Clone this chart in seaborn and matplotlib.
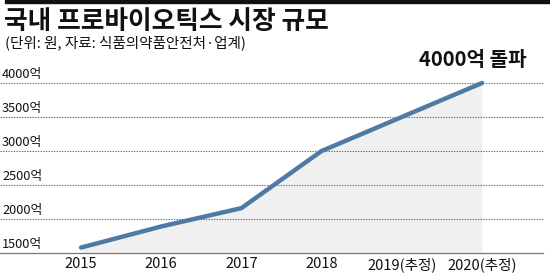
import matplotlib
matplotlib.use("Agg")
import matplotlib.pyplot as plt
import seaborn as sns
import pandas as pd
from matplotlib.patches import Rectangle

years = ["2015", "2016", "2017", "2018", "2019(추정)", "2020(추정)"]
values = [1580, 1890, 2160, 3000, 3500, 4000]
y_ticks = [1500, 2000, 2500, 3000, 3500, 4000]
y_labels = ["1500억", "2000억", "2500억", "3000억", "3500억", "4000억"]
title = "국내 프로바이오틱스 시장 규모"
subtitle = "(단위: 원, 자료: 식품의약품안전처·업계)"
callout = "4000억 돌파"

sns.set_style("white")
plt.rcParams['font.family'] = ['Noto Sans CJK KR', 'DejaVu Sans']

df = pd.DataFrame({"x": range(len(years)), "year": years, "value": values})

W, H = 550, 274
fig = plt.figure(figsize=(5.5, 2.74), dpi=100)
ax = fig.add_axes([0, (H - 253) / H, 543 / W, (253 - 83) / H])

px_per_unit = (482 - 81) / 5
xmin, xmax = 0 - 81 / px_per_unit, 5 + 61 / px_per_unit
ax.set_xlim(xmin, xmax)
ax.set_ylim(1500, 4000)

ax.fill_between(df["x"], df["value"], 1500, color="#f0f0f0", zorder=1, lw=0)
for yv in y_ticks[1:]:
    ax.plot([xmin, xmax], [yv, yv], color="#666666", lw=0.8, ls=(0, (1.2, 1.2)),
            zorder=2, clip_on=False)
sns.lineplot(data=df, x="x", y="value", ax=ax, color="#4f7aa6", lw=3.2, zorder=3)
for l in ax.lines:
    l.set_clip_on(False)

for s in ["top", "right", "left"]:
    ax.spines[s].set_visible(False)
ax.spines["bottom"].set_color("#777777")
ax.spines["bottom"].set_linewidth(0.9)

ax.set_xticks(df["x"])
ax.set_xticklabels(years, fontsize=10.5, color="#111111", fontweight="medium")
ax.tick_params(axis="x", direction="in", length=7, width=0.8, color="#555555", pad=3)
ax.set_yticks([])
ax.set_xlabel("")
ax.set_ylabel("")

for yv, lab in zip(y_ticks, y_labels):
    ax.text(2 / 543, yv + 25, lab, transform=ax.get_yaxis_transform(), fontsize=9.2,
            va="bottom", ha="left", color="#111111", clip_on=False, fontweight="medium")

ax.text(5 + 45 / px_per_unit, 4000 + 190, callout, fontsize=14.5, fontweight="bold",
        ha="right", va="bottom", color="#111111", clip_on=False)

fig.patches.append(Rectangle((5 / W, 1 - 3 / H), 545 / W, 3 / H, transform=fig.transFigure,
                             color="#111111", zorder=10))
fig.text(4 / W, 1 - 29 / H, title, fontsize=18.5, fontweight="heavy", ha="left", va="baseline",
         color="#111111")
fig.text(5 / W, 1 - 47 / H, subtitle, fontsize=10.5, ha="left", va="baseline", color="#111111")

fig.savefig("out.png", dpi=100)
